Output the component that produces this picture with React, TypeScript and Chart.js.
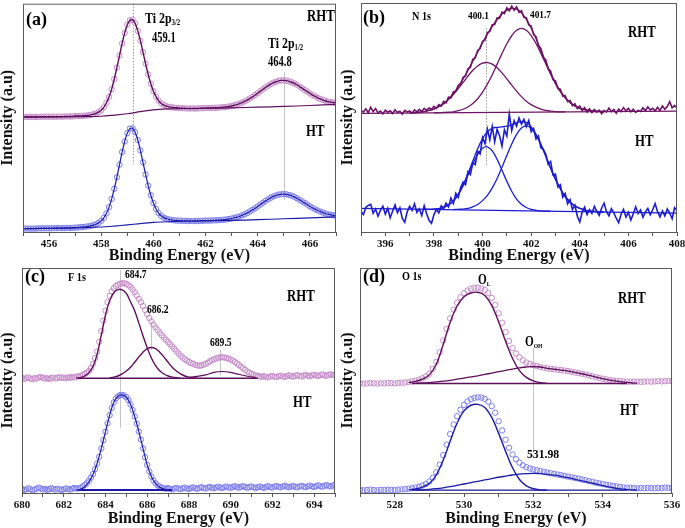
import React, { useEffect, useRef } from 'react';
import { Chart, registerables } from 'chart.js';
Chart.register(...registerables);

const SERIF = "'Liberation Serif', 'Times New Roman', serif";

// ---------- Panel (a) Ti 2p : x from 455.0 step 0.1 ----------
const A_X0 = 455;
const A_RHT = [
  50.4,50.4,50.4,50.4,50.4,50.4,50.4,50.5,50.5,50.5, 50.5,50.5,50.5,50.5,50.5,50.5,50.6,50.6,50.6,50.6,
  50.8,50.8,50.8,50.9,51.0,51.1,51.3,51.6,51.9,52.5,
  53.3,54.6,56.6,59.2,62.6,67.0,72.0,77.3,82.6,87.2,
  90.8,92.8,93.0,91.4,88.1,83.8,78.8,73.7,69.0,64.9,
  61.7,59.3,57.5,56.3,55.6,55.1,54.8,54.6,54.5,54.4,
  54.3,54.2,54.2,54.1,54.1,54.1,54.1,54.1,54.2,54.2,
  54.3,54.3,54.3,54.4,54.4,54.5,54.6,54.7,54.8,55.0,
  55.2,55.5,55.8,56.2,56.7,57.2,57.8,58.5,59.2,60.0,
  60.8,61.7,62.5,63.3,64.1,64.8,65.4,65.8,66.2,66.4,
  66.4,66.3,66.0,65.6,65.1,64.5,63.7,63.0,62.2,61.5,
  60.7,60.0,59.4,58.8,58.3,57.8,57.4,57.1,56.9,56.7,
  56.5,
];
const A_HT = [
  1.5,1.5,1.5,1.5,1.5,1.5,1.6,1.6,1.6,1.6, 1.6,1.6,1.7,1.7,1.7,1.7,1.7,1.8,1.8,1.8,
  1.9,2.0,2.1,2.2,2.3,2.5,2.7,3.0,3.4,4.0,
  4.9,6.2,8.2,10.9,14.5,18.9,24.0,29.5,35.0,39.7,
  43.3,45.3,45.4,43.7,40.3,35.8,30.5,25.2,20.3,16.1,
  12.7,10.1,8.3,7.0,6.3,5.8,5.5,5.3,5.1,5.0,
  5.0,4.9,4.9,4.8,4.8,4.8,4.8,4.8,4.9,4.9,
  5.0,5.0,5.0,5.1,5.1,5.2,5.3,5.4,5.5,5.7,
  5.9,6.2,6.5,6.8,7.3,7.8,8.3,9.0,9.7,10.4,
  11.2,12.0,12.8,13.6,14.3,15.0,15.6,16.0,16.4,16.5,
  16.6,16.5,16.2,15.9,15.4,14.8,14.1,13.4,12.7,12.0,
  11.2,10.6,9.9,9.4,8.9,8.5,8.1,7.8,7.5,7.3,
  7.2,
];
const A_BG_X = [455, 457, 458, 458.5, 459, 459.5, 460, 460.5, 461, 462, 463, 464, 465, 466, 467];
const A_RHT_BG = [50.4, 50.5, 50.7, 51.2, 51.8, 52.7, 53.5, 53.9, 54.0, 54.2, 54.4, 54.7, 55.0, 55.4, 55.9];
const A_HT_BG = [1.5, 1.8, 2.2, 2.6, 3.1, 3.7, 4.2, 4.5, 4.7, 4.9, 5.1, 5.4, 5.8, 6.2, 6.6];

// ---------- Panel (b) N 1s : raw from 395.0 step 0.1 ----------
const B_X0 = 395;
const B_RHT_RAW = [
  53.0,52.4,53.8,52.1,54.5,52.6,53.9,52.0,52.8,51.6,
  53.2,52.3,52.9,51.8,53.4,52.2,52.7,51.5,53.1,52.4,
  52.9,51.9,53.3,52.5,53.6,52.6,54.0,53.1,54.2,53.6,
  54.9,54.0,55.6,55.0,57.0,56.4,58.9,58.6,61.2,61.3,
  64.1,64.6,67.5,68.1,71.3,71.9,75.4,76.0,79.3,80.1,
  83.3,83.9,87.1,87.6,90.5,90.6,93.5,93.3,96.0,95.4,
  97.9,96.6,98.6,96.8,98.3,95.9,96.6,93.8,93.6,90.4,
  89.9,86.2,85.3,81.3,80.2,76.1,75.2,71.2,70.3,66.5,
  66.0,62.6,62.4,59.3,59.5,56.9,57.4,55.1,56.0,53.9,
  55.0,53.0,54.3,52.4,53.8,52.1,53.5,52.3,53.2,51.7,
  53.0,52.4,54.1,52.6,53.5,51.9,53.7,52.6,54.3,52.8,
  54.0,52.5,53.6,52.2,53.1,52.6,54.2,53.0,54.6,53.3,
  54.0,52.9,54.4,53.1,55.0,53.6,54.8,56.9,54.2,55.3,
  54.1,
];
const B_HT_RAW = [
  9.0,7.6,10.8,11.6,12.1,8.2,10.0,6.9,9.5,11.3,
  7.8,10.4,6.2,9.1,11.8,8.5,10.6,5.9,4.3,8.8,
  11.2,9.4,12.3,8.6,10.1,7.2,11.5,8.0,5.1,3.8,
  7.5,9.9,8.3,11.4,10.2,12.6,11.0,14.8,12.4,16.9,
  15.1,19.4,21.8,20.6,26.3,25.1,30.2,29.4,35.3,34.1,
  41.2,38.6,44.9,40.3,46.1,39.4,44.8,42.0,37.5,44.6,
  41.9,51.5,44.3,48.6,46.2,49.8,47.1,49.2,46.0,48.7,
  43.8,45.2,40.6,41.9,36.8,36.1,33.9,29.6,30.8,24.9,
  25.3,19.7,20.6,15.2,16.8,12.3,14.1,9.8,11.7,6.9,
  4.4,8.7,10.9,7.6,9.8,8.1,11.2,9.0,7.3,10.5,
  12.6,8.9,7.1,10.2,8.4,6.0,4.1,7.7,9.9,6.5,
  8.6,5.2,7.9,11.0,8.1,9.6,6.4,8.8,10.3,7.5,
  9.7,12.4,8.9,6.6,9.2,7.0,10.1,8.3,5.8,10.6,
  9.4,
];
// fitted components, step 0.2
const B_RHT_C1_X0 = 397.0;
const B_RHT_C1 = [52.0,52.1,52.3,52.6,53.1,53.7,54.7,56.0,57.8,60.0,62.6,65.3,68.1,70.6,72.5,73.7,74.0,73.3,71.7,69.5,66.9,64.1,61.5,59.1,57.1,55.6,54.5,53.7,53.1,52.8,52.6,52.5,52.5];
const B_RHT_C2_X0 = 398.0;
const B_RHT_C2 = [52.0,52.1,52.2,52.3,52.5,53.0,53.6,54.6,56.1,58.2,61.1,64.6,68.7,73.3,77.9,82.2,85.7,88.1,88.9,88.1,85.8,82.3,78.0,73.5,68.9,64.8,61.3,58.6,56.5,55.0,54.0,53.4,53.1,52.9,52.7,52.6];
const B_RHT_ENV_X0 = 397.0;
const B_RHT_ENV = [52.0,52.1,52.3,52.6,53.1,53.7,54.8,56.1,58.1,60.5,63.5,66.8,70.6,74.6,78.6,82.6,86.4,89.8,92.8,95.2,96.9,97.6,97.3,95.7,92.9,89.1,84.5,79.4,74.3,69.4,65.1,61.5,58.7,56.6,55.1,54.1,53.4,53.1,52.9,52.7,52.6];
const B_HT_C1_X0 = 397.6;
const B_HT_C1 = [9.9,9.9,10.0,10.2,10.8,11.8,13.5,16.3,20.1,24.8,29.6,33.9,36.6,37.2,35.4,31.7,27.0,22.1,17.8,14.4,12.1,10.7,9.9,9.5,9.2,9.1,9.1];
const B_HT_C2_X0 = 398.8;
const B_HT_C2 = [9.8,9.9,10.0,10.3,11.0,12.0,13.7,16.0,19.3,23.4,28.3,33.4,38.4,42.6,45.4,46.3,45.3,42.4,38.2,33.2,27.9,23.0,18.9,15.5,13.1,11.4,10.3,9.6,9.2,9.0,8.8,8.7];
const B_HT_ENV_X0 = 397.6;
const B_HT_ENV = [9.9,9.9,10.0,10.2,10.8,11.8,13.6,16.5,20.5,25.5,31.0,36.4,40.8,43.8,45.3,45.7,45.9,46.2,46.9,47.7,48.2,47.8,46.0,42.7,38.3,33.2,27.9,23.0,18.9,15.5,13.1,11.4,10.3,9.6,9.2,9.0,8.8,8.7];
const B_BG_X = [395, 408];
const B_RHT_BG = [51.8, 52.8];
const B_HT_BG = [10.3, 8.2];

// ---------- Panel (c) F 1s : x from 680.0 step 0.1 ----------
const C_X0 = 680;
const C_RHT = [
  51.2,50.7,51.0,51.4,50.9,50.6,51.1,50.8,51.3,51.6,
  51.2,50.9,51.0,50.7,51.1,51.3,50.9,51.2,51.5,51.1,
  51.3,51.0,51.4,51.2,51.6,51.3,51.7,51.8,52.0,52.4,
  52.9,53.5,54.2,55.5,57.4,60.0,62.9,67.2,72.0,76.6,
  81.0,84.8,87.6,89.6,91.0,92.0,92.6,93.0,93.2,93.2,
  92.9,92.4,91.6,90.5,89.2,87.8,86.3,84.8,83.1,81.3,
  79.5,77.8,76.3,74.9,73.6,72.4,71.2,70.1,69.1,68.1,
  67.1,66.1,65.1,64.1,63.1,62.0,61.0,60.2,59.5,58.9,
  58.3,57.8,57.4,57.0,56.7,56.6,56.7,57.0,57.4,57.9,
  58.5,59.0,59.4,59.8,60.1,60.3,60.3,60.2,60.0,59.7,
  59.3,58.8,58.3,57.6,56.9,56.1,55.4,54.7,54.0,53.5,
  53.0,52.6,52.3,52.0,51.8,51.7,51.9,51.6,51.4,51.8,
  52.0,51.7,51.5,51.9,52.2,51.8,51.6,52.0,52.3,51.9,
  51.7,52.1,52.4,52.0,51.8,52.2,52.5,52.1,51.9,52.3,
  52.6,52.2,52.0,52.4,52.7,52.3,52.1,52.5,52.8,52.4,
  52.6,
];
const C_HT = [
  1.8,1.3,1.6,2.1,1.7,1.2,1.5,1.9,2.4,2.0,
  1.6,1.8,1.4,1.7,2.1,1.8,1.5,1.9,1.6,1.3,
  1.7,2.0,1.8,1.5,1.9,2.2,2.0,2.1,2.3,2.9,
  3.5,4.3,5.4,6.8,8.4,10.6,13.1,16.1,19.8,23.5,
  27.2,31.0,34.6,37.8,40.3,42.0,43.0,43.5,43.6,43.3,
  42.6,41.3,39.4,36.9,34.0,30.8,27.3,23.7,19.8,15.9,
  12.5,9.6,7.3,5.6,4.3,3.4,2.8,2.4,2.1,1.9,
  2.2,1.8,1.6,2.0,2.3,1.9,1.7,2.1,2.4,2.0,
  1.8,2.2,2.5,2.1,1.9,2.3,2.6,2.2,2.0,2.4,
  2.7,2.3,2.1,2.5,2.8,2.4,2.2,2.6,2.9,2.5,
  2.3,2.7,3.0,2.6,2.4,2.8,3.0,2.6,2.3,2.7,
  2.9,2.5,2.2,2.6,2.9,2.5,2.3,2.7,3.0,2.6,
  2.4,2.8,3.1,2.7,2.5,2.9,3.2,2.8,2.5,2.9,
  3.1,2.7,2.5,2.9,3.2,2.8,2.6,3.0,3.3,2.9,
  2.7,3.1,3.4,3.0,2.8,3.2,3.5,3.1,2.9,3.3,
  3.6,
];
const C_RHT_C1_X0 = 682.6;
const C_RHT_C1 = [51.0,51.3,52.0,53.4,56.2,61.6,70.2,79.0,85.5,89.0,90.4,90.3,88.7,85.0,81.0,75.5,69.8,64.5,60.0,56.6,54.3,52.9,52.0,51.5,51.2,51.0];
const C_RHT_C2_X0 = 684.2;
const C_RHT_C2 = [51.2,51.5,52.0,52.9,54.2,55.9,58.1,60.5,62.6,64.2,64.7,64.2,62.6,60.5,58.1,55.9,54.2,52.9,52.0,51.5,51.2,51.0];
const C_RHT_C3_X0 = 688.0;
const C_RHT_C3 = [51.4,51.8,52.5,53.6,54.0,53.6,52.7,51.9,51.3]; // step 0.4
const C_HT_FIT_X0 = 682.6;
const C_HT_FIT = [1.3,1.6,2.8,4.9,8.2,13.1,19.8,27.2,34.6,40.3,43.0,43.6,42.6,39.4,34.0,27.3,19.8,12.5,7.3,4.3,2.6,1.8,1.4,1.3];
const C_RHT_BG_X = [682.7, 691.3];
const C_RHT_BG = [51.0, 51.0];
const C_HT_BG_X = [682.7, 687.2];
const C_HT_BG = [1.3, 1.3];

// ---------- Panel (d) O 1s : x from 527.0 step 0.1 ----------
const D_X0 = 527;
const D_RHT = [
  48.8,48.6,48.7,48.9,48.7,48.6,48.8,48.7,48.9,48.8,
  48.7,48.9,49.0,49.1,49.3,49.6,49.9,50.4,51.0,51.8,
  53.0,55.2,58.3,62.6,67.8,72.9,77.6,81.5,84.6,87.0,
  88.8,90.0,90.8,91.2,91.3,91.0,90.3,88.9,86.7,83.6,
  79.9,75.7,71.5,67.6,64.4,62.0,60.3,59.0,58.0,57.3,
  56.8,56.4,56.0,55.7,55.4,55.2,55.0,54.8,54.6,54.4,
  54.2,53.9,53.6,53.3,53.0,52.7,52.3,51.9,51.5,51.1,
  50.8,50.5,50.2,50.0,49.8,49.7,49.6,49.5,49.5,49.4,
  49.5,49.4,49.5,49.6,49.5,49.6,49.7,49.6,49.7,49.8,
  49.7,
];
const D_HT = [
  1.4,1.2,1.3,1.5,1.3,1.2,1.4,1.3,1.5,1.4,
  1.3,1.5,1.6,1.7,1.9,2.1,2.4,2.8,3.3,4.0,
  5.1,6.8,9.2,12.6,16.8,21.5,26.2,30.5,34.1,37.0,
  39.2,40.7,41.7,42.3,42.5,42.4,41.8,40.6,38.6,35.7,
  31.9,27.8,23.7,20.1,17.1,15.0,13.5,12.3,11.5,10.9,
  10.5,10.1,9.8,9.4,9.1,8.8,8.5,8.2,7.9,7.6,
  7.3,7.0,6.7,6.4,6.0,5.7,5.3,5.0,4.6,4.3,
  4.0,3.7,3.4,3.2,2.9,2.7,2.5,2.4,2.3,2.2,
  2.1,2.2,2.1,2.3,2.2,2.1,2.3,2.2,2.4,2.3,
  2.2,
];
const D_OL_X0 = 528.4;
const D_RHT_OL = [49.1,49.6,50.6,52.5,57.2,66.0,75.8,83.1,87.2,88.9,89.2,87.8,83.4,76.0,67.4,59.8,54.4,51.4,49.8,49.0,48.7];
const D_HT_OL = [1.4,1.8,2.6,4.2,8.0,14.6,23.0,31.0,36.5,39.0,39.4,38.0,33.6,26.5,18.5,11.2,6.0,3.2,1.9,1.4,1.3];
const D_OH_X0 = 528.6;
const D_RHT_OH = [48.8,48.9,49.1,49.4,49.7,50.1,50.6,51.1,51.6,52.1,52.7,53.3,53.9,54.5,55.1,55.6,56.0,56.2,56.0,55.4,55.0,54.6,54.2,53.6,53.0,52.3,51.5,50.8,50.2,49.7,49.3,49.0,48.8];
const D_HT_OH = [1.3,1.4,1.6,1.9,2.3,2.8,3.4,4.0,4.6,5.2,5.8,6.4,7.0,7.5,8.0,8.4,8.6,8.7,8.6,8.3,7.9,7.4,6.8,6.1,5.4,4.7,4.0,3.3,2.6,2.1,1.7,1.4,1.3];
const D_BG_X = [528.5, 534.7];
const D_RHT_BG = [48.7, 48.7];
const D_HT_BG = [1.3, 1.3];

// ---------- styling ----------
const PUR_DARK = '#5e0f5c';
const PUR_LIGHT = '#c58cc9';
const BLU_DARK = '#1a1aa6';
const BLU_LIGHT = '#7c7ced';
const PUR_B = '#6d1467';
const BLU_B = '#1d1dd0';

const pts = (x0: number, step: number, ys: number[]) =>
  ys.map((y, i) => ({ x: Math.round((x0 + i * step) * 1000) / 1000, y }));
const pairs = (xs: number[], ys: number[]) => xs.map((x, i) => ({ x, y: ys[i] }));

const line = (data: any[], color: string, width = 1.3, tension = 0.35) => ({
  data, borderColor: color, borderWidth: width, pointRadius: 0, pointHoverRadius: 0,
  fill: false, tension, showLine: true,
});
const dots = (data: any[], color: string) => ({
  data, showLine: false, pointRadius: 2.7, pointHoverRadius: 0, pointBorderWidth: 1,
  pointBorderColor: color, pointBackgroundColor: 'rgba(0,0,0,0)', borderColor: color,
});

type Part = { s: string; size: number; dy?: number };
type Txt = { x: number; y: number; parts: Part[]; sx?: number };
type VLine = { x: number; y1: number; y2: number; color: string; dash?: number[] };

function drawText(ctx: CanvasRenderingContext2D, t: Txt) {
  ctx.save();
  ctx.translate(t.x, t.y);
  ctx.scale(t.sx ?? 1, 1);
  ctx.fillStyle = '#000';
  ctx.textBaseline = 'middle';
  ctx.textAlign = 'left';
  let x = 0;
  for (const p of t.parts) {
    ctx.font = `bold ${p.size}px ${SERIF}`;
    ctx.fillText(p.s, x, p.dy || 0);
    x += ctx.measureText(p.s).width;
  }
  ctx.restore();
}

const T = (x: number, y: number, s: string, size: number, sx = 1): Txt => ({ x, y, parts: [{ s, size }], sx });

type PanelDef = {
  left: number; top: number; width: number; height: number;
  padTop: number; padRight: number; yW: number; xH: number; titlePadB: number;
  xmin: number; xmax: number;
  datasets: any[]; texts: Txt[]; vlines: VLine[];
};

function makeConfig(p: PanelDef): any {
  const plugin = {
    id: 'annot',
    beforeDatasetsDraw(chart: any) {
      const { ctx } = chart;
      const xs = chart.scales.x, ys = chart.scales.y;
      for (const v of p.vlines) {
        ctx.save();
        ctx.strokeStyle = v.color;
        ctx.lineWidth = 1;
        ctx.setLineDash(v.dash || []);
        const X = Math.round(xs.getPixelForValue(v.x)) + 0.5;
        ctx.beginPath();
        ctx.moveTo(X, ys.getPixelForValue(v.y1));
        ctx.lineTo(X, ys.getPixelForValue(v.y2));
        ctx.stroke();
        ctx.restore();
      }
    },
    afterDraw(chart: any) {
      const { ctx, chartArea: a } = chart;
      ctx.save();
      ctx.strokeStyle = '#5a5a5a';
      ctx.lineWidth = 1;
      ctx.strokeRect(a.left + 0.5, a.top + 0.5, a.right - a.left - 1, a.bottom - a.top);
      ctx.restore();
      for (const t of p.texts) drawText(ctx, t);
    },
  };
  return {
    type: 'line',
    data: { datasets: p.datasets },
    options: {
      responsive: false,
      animation: false,
      devicePixelRatio: 1,
      events: [],
      layout: { padding: { left: 0, top: p.padTop, right: p.padRight, bottom: 0 } },
      plugins: { legend: { display: false }, tooltip: { enabled: false } },
      scales: {
        x: {
          type: 'linear', min: p.xmin, max: p.xmax,
          afterFit: (s: any) => { s.height = p.xH; s.paddingLeft = 0; s.paddingRight = 0; },
          border: { display: false },
          grid: { display: true, drawOnChartArea: false, drawTicks: true, tickLength: 4, color: '#555' },
          ticks: {
            stepSize: 1, autoSkip: false, maxRotation: 0, minRotation: 0, padding: 2, color: '#111',
            font: { family: SERIF, size: 11, weight: 'bold' },
            callback: (v: number) => {
              const r = Math.round(v);
              return Math.abs(v - r) < 1e-6 && r % 2 === 0 ? String(r) : '';
            },
          },
          title: {
            display: true, text: 'Binding Energy (eV)', color: '#111',
            font: { family: SERIF, size: 16, weight: 'bold', lineHeight: 1.0 },
            padding: { top: 0, bottom: p.titlePadB },
          },
        },
        y: {
          min: 0, max: 100,
          afterFit: (s: any) => { s.width = p.yW; s.paddingTop = 0; s.paddingBottom = 0; },
          border: { display: false },
          grid: { display: false },
          ticks: { display: false },
          title: {
            display: true, text: 'Intensity (a.u)', color: '#111',
            font: { family: SERIF, size: 16, weight: 'bold', lineHeight: 1 },
            padding: 0,
          },
        },
      },
    },
    plugins: [plugin],
  };
}

const GRAY_DOT = '#9a9a9a';
const GRAY_LINE = '#c4c4c4';

const PANELS: PanelDef[] = [
  {
    left: 0, top: 0, width: 340, height: 264, padTop: 3, padRight: 4, yW: 23, xH: 32, titlePadB: 0,
    xmin: 455, xmax: 467,
    datasets: [
      line(pairs(A_BG_X, A_RHT_BG), PUR_DARK, 1.2),
      line(pts(A_X0, 0.1, A_RHT), PUR_DARK, 1.4, 0.2),
      line(pairs(A_BG_X, A_HT_BG), BLU_DARK, 1.2),
      line(pts(A_X0, 0.1, A_HT), BLU_DARK, 1.2, 0.2),
      dots(pts(A_X0, 0.1, A_RHT), PUR_LIGHT),
      dots(pts(A_X0, 0.1, A_HT), BLU_LIGHT),
    ],
    vlines: [
      { x: 459.2, y1: 100, y2: 30, color: GRAY_DOT, dash: [1.5, 1.5] },
      { x: 465.0, y1: 70, y2: 14, color: GRAY_LINE },
    ],
    texts: [
      T(26, 20, '(a)', 18),
      { x: 145, y: 19, parts: [{ s: 'Ti 2p', size: 14 }, { s: '3/2', size: 8, dy: 4 }], sx: 0.85 },
      T(152, 38, '459.1', 14, 0.75),
      T(307, 17, 'RHT', 17, 0.75),
      { x: 268, y: 44, parts: [{ s: 'Ti 2p', size: 14 }, { s: '1/2', size: 8, dy: 4 }], sx: 0.85 },
      T(268, 62, '464.8', 14, 0.75),
      T(306, 132, 'HT', 17, 0.75),
    ],
  },
  {
    left: 340, top: 0, width: 345, height: 264, padTop: 3, padRight: 8, yW: 21, xH: 32, titlePadB: 0,
    xmin: 395, xmax: 408,
    datasets: [
      line(pairs(B_BG_X, B_RHT_BG), PUR_B, 1.3, 0),
      line(pts(B_RHT_C1_X0, 0.2, B_RHT_C1), PUR_B, 1.3),
      line(pts(B_RHT_C2_X0, 0.2, B_RHT_C2), PUR_B, 1.3),
      line(pts(B_RHT_ENV_X0, 0.2, B_RHT_ENV), PUR_B, 1.3),
      line(pts(B_X0, 0.1, B_RHT_RAW), PUR_B, 1.6, 0),
      line(pairs(B_BG_X, B_HT_BG), BLU_B, 1.3, 0),
      line(pts(B_HT_C1_X0, 0.2, B_HT_C1), BLU_B, 1.3),
      line(pts(B_HT_C2_X0, 0.2, B_HT_C2), BLU_B, 1.3),
      line(pts(B_HT_ENV_X0, 0.2, B_HT_ENV), BLU_B, 1.3),
      line(pts(B_X0, 0.1, B_HT_RAW), BLU_B, 1.6, 0),
    ],
    vlines: [{ x: 400.15, y1: 89, y2: 29, color: GRAY_DOT, dash: [1.5, 1.5] }],
    texts: [
      T(23, 18, '(b)', 18),
      T(72, 17, 'N 1s', 12, 0.85),
      T(128, 16, '400.1', 11, 0.85),
      T(190, 15, '401.7', 11, 0.85),
      T(288, 33, 'RHT', 17, 0.75),
      T(295, 142, 'HT', 17, 0.75),
    ],
  },
  {
    left: 0, top: 264, width: 340, height: 264, padTop: 4, padRight: 5, yW: 22, xH: 35, titlePadB: 1,
    xmin: 680, xmax: 695,
    datasets: [
      line(pairs(C_RHT_BG_X, C_RHT_BG), PUR_DARK, 1.6, 0),
      line(pts(C_RHT_C1_X0, 0.2, C_RHT_C1), PUR_DARK, 1.4),
      line(pts(C_RHT_C2_X0, 0.2, C_RHT_C2), PUR_DARK, 1.4),
      line(pts(C_RHT_C3_X0, 0.4, C_RHT_C3), PUR_DARK, 1.2),
      line(pairs(C_HT_BG_X, C_HT_BG), BLU_DARK, 2, 0),
      line(pts(C_HT_FIT_X0, 0.2, C_HT_FIT), BLU_DARK, 1.2),
      dots(pts(C_X0, 0.1, C_RHT), PUR_LIGHT),
      dots(pts(C_X0, 0.1, C_HT), BLU_LIGHT),
    ],
    vlines: [
      { x: 684.7, y1: 99, y2: 29, color: GRAY_LINE },
      { x: 686.2, y1: 76, y2: 63.6, color: GRAY_LINE },
      { x: 689.5, y1: 63.6, y2: 52.4, color: GRAY_LINE },
    ],
    texts: [
      T(25, 13, '(c)', 18),
      T(68, 14, 'F 1s', 12, 0.85),
      T(125, 11, '684.7', 12, 0.8),
      T(147, 46, '686.2', 12, 0.8),
      T(210, 79, '689.5', 12, 0.8),
      T(287, 33, 'RHT', 17, 0.75),
      T(293, 139, 'HT', 17, 0.75),
    ],
  },
  {
    left: 340, top: 264, width: 345, height: 264, padTop: 4, padRight: 13, yW: 20, xH: 35, titlePadB: 1,
    xmin: 527, xmax: 536,
    datasets: [
      line(pairs(D_BG_X, D_RHT_BG), PUR_DARK, 1.4, 0),
      line(pts(D_OL_X0, 0.2, D_RHT_OL), PUR_DARK, 1.4),
      line(pts(D_OH_X0, 0.2, D_RHT_OH), PUR_DARK, 1.3),
      line(pairs(D_BG_X, D_HT_BG), BLU_DARK, 1.4, 0),
      line(pts(D_OL_X0, 0.2, D_HT_OL), BLU_DARK, 1.4),
      line(pts(D_OH_X0, 0.2, D_HT_OH), BLU_DARK, 1.3),
      dots(pts(D_X0, 0.1, D_RHT), PUR_LIGHT),
      dots(pts(D_X0, 0.1, D_HT), BLU_LIGHT),
    ],
    vlines: [{ x: 532.0, y1: 64.4, y2: 17.8, color: GRAY_LINE }],
    texts: [
      T(23, 13, '(d)', 18),
      T(62, 13, 'O 1s', 12, 0.85),
      { x: 138, y: 16, parts: [{ s: 'O', size: 14 }, { s: 'L', size: 7, dy: 4 }], sx: 0.8 },
      { x: 185, y: 78, parts: [{ s: 'O', size: 14 }, { s: 'OH', size: 7, dy: 4 }], sx: 0.8 },
      T(278, 35, 'RHT', 17, 0.75),
      T(280, 147, 'HT', 17, 0.75),
      T(187, 191, '531.98', 13, 0.9),
    ],
  },
];

function Panel({ def }: { def: PanelDef }) {
  const ref = useRef<HTMLCanvasElement>(null);
  useEffect(() => {
    const chart = new Chart(ref.current as HTMLCanvasElement, makeConfig(def));
    return () => chart.destroy();
  }, [def]);
  return (
    <canvas
      ref={ref}
      width={def.width}
      height={def.height}
      style={{ position: 'absolute', left: def.left, top: def.top, width: def.width, height: def.height }}
    />
  );
}

export default function App() {
  return (
    <div style={{ position: 'absolute', left: 0, top: 0, width: 685, height: 528, background: '#fff', overflow: 'hidden' }}>
      {PANELS.map((d, i) => (
        <Panel key={i} def={d} />
      ))}
    </div>
  );
}
